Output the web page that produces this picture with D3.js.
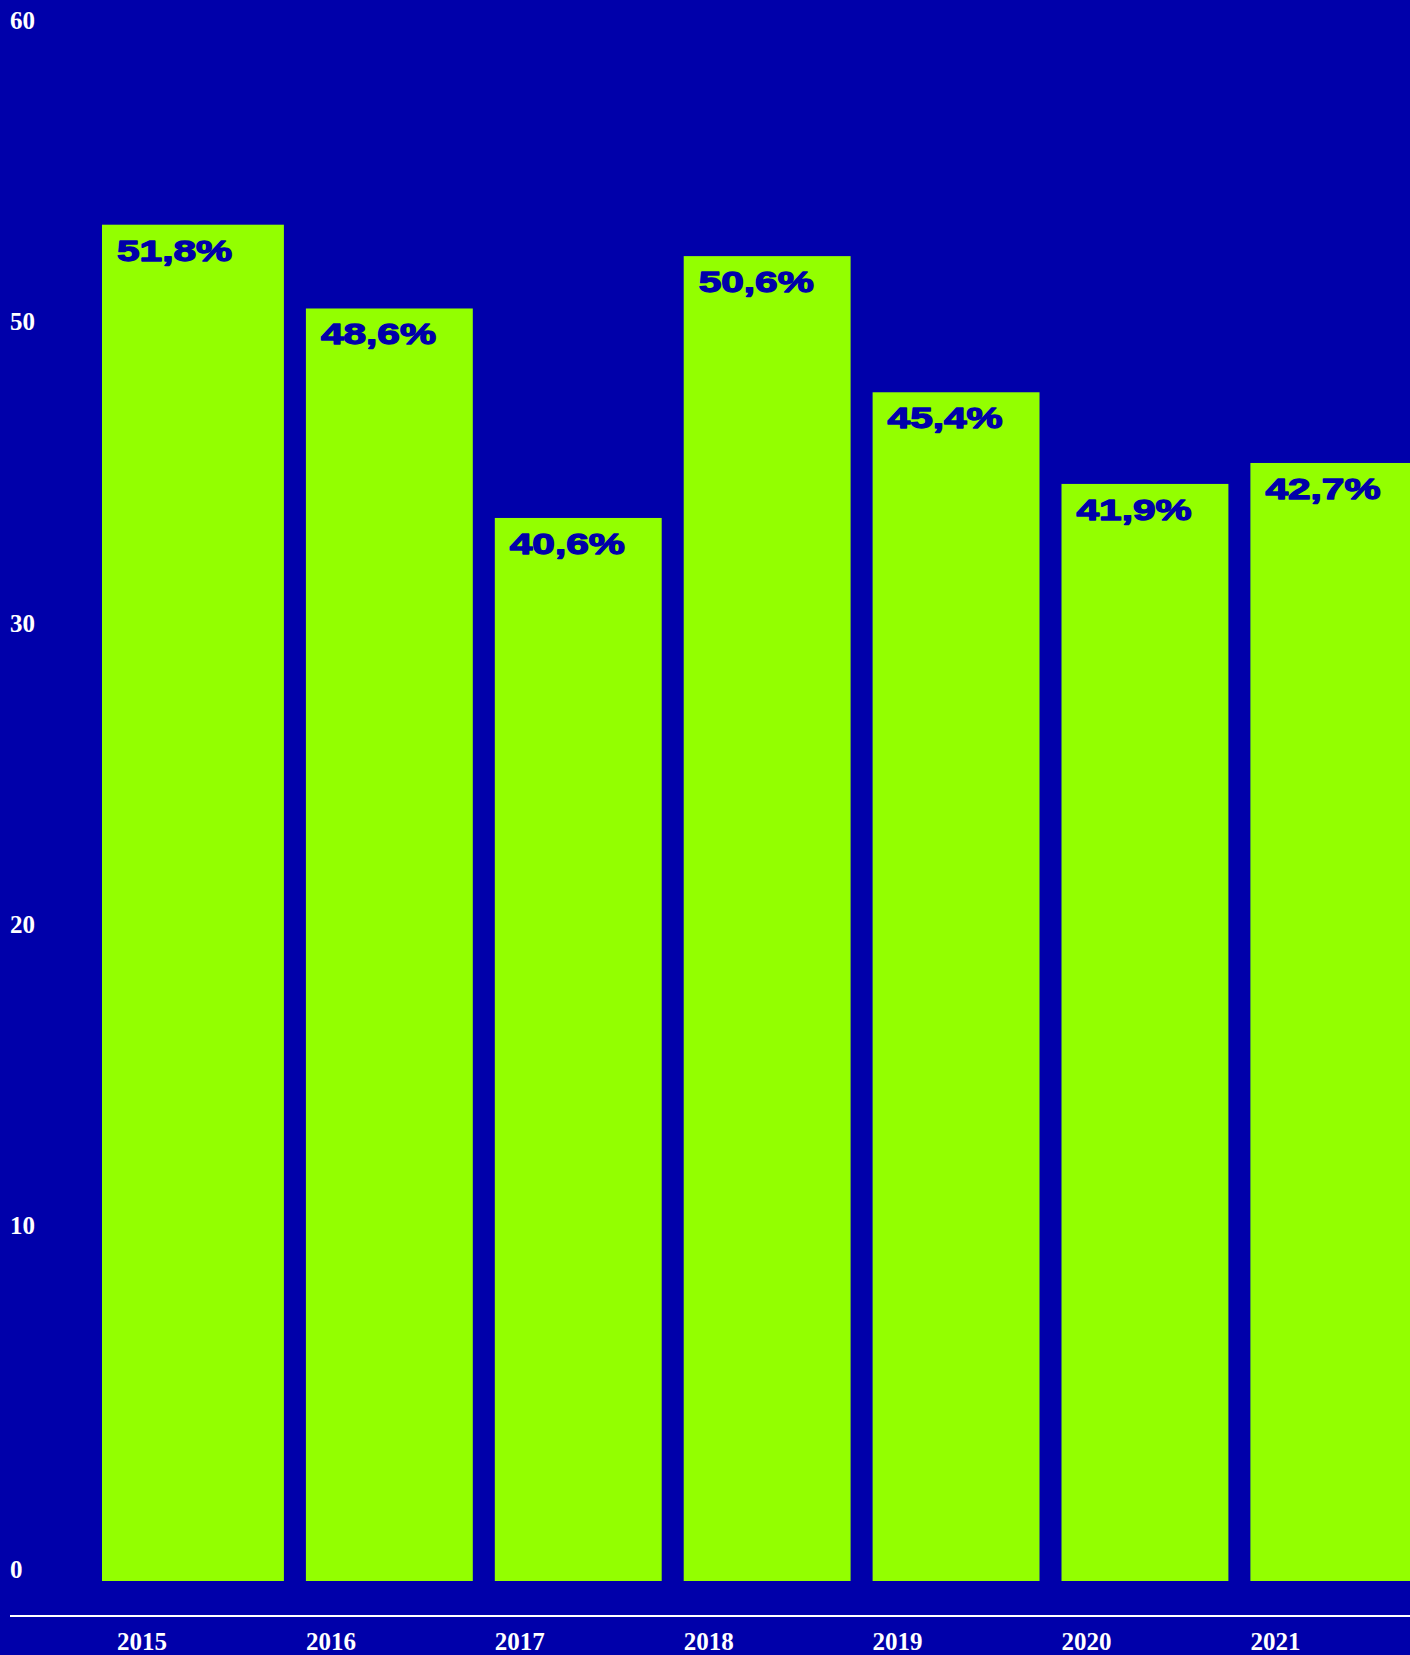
<!DOCTYPE html>
<html>
<head>
<meta charset="utf-8">
<script src="https://cdn.jsdelivr.net/npm/d3@7"></script>
<style>
  html, body { margin: 0; padding: 0; background: #0000AA; overflow: hidden; }
  svg { display: block; }
  .tick-label { font-family: "Liberation Serif", "DejaVu Serif", serif; font-weight: bold; font-size: 25px; fill: #ffffff; font-variant-numeric: oldstyle-nums; }
  .val-label { font-family: "Liberation Sans", Arial, sans-serif; font-weight: bold; font-size: 29px; fill: #0000AA; stroke: #0000AA; stroke-width: 1.3px; stroke-linejoin: round; }
</style>
</head>
<body>
<div id="chart"></div>
<script>
// ---- data ----
const years = ["2015", "2016", "2017", "2018", "2019", "2020", "2021"];
const values = [51.8, 48.6, 40.6, 50.6, 45.4, 41.9, 42.7];
const valueLabels = ["51,8%", "48,6%", "40,6%", "50,6%", "45,4%", "41,9%", "42,7%"];
const yTickLabels = ["60", "50", "30", "20", "10", "0"];

// ---- layout ----
const W = 1410, H = 1655;
const BG = "#0000AA", BAR = "#93FF00";
const plotLeft = 102;      // first bar starts flush here
const bandStart = 117, bandEnd = 1417.3;
const baseY = 1581, topY = 10;

const svg = d3.select("#chart").append("svg")
  .attr("width", W).attr("height", H);

svg.append("rect").attr("width", W).attr("height", H).attr("fill", BG);

const x = d3.scaleBand().domain(years).range([bandStart, bandEnd])
  .paddingInner(0.1165).paddingOuter(0);
const y = d3.scaleLinear().domain([0, 60]).range([baseY, topY]);

const data = years.map((yr, i) => ({ year: yr, value: values[i], label: valueLabels[i], i }));
const barLeft = d => d.i === 0 ? plotLeft : x(d.year);
const barRight = d => x(d.year) + x.bandwidth();

// bars
svg.append("g").selectAll("rect").data(data).join("rect")
  .attr("x", d => barLeft(d))
  .attr("y", d => y(d.value))
  .attr("width", d => barRight(d) - barLeft(d))
  .attr("height", d => y(0) - y(d.value))
  .attr("fill", BAR);

// value labels (wide, stretched)
svg.append("g").selectAll("text").data(data).join("text")
  .attr("class", "val-label")
  .attr("transform", d => `translate(${barLeft(d) + 15},${y(d.value) + 36}) scale(1.4,1)`)
  .text(d => d.label);

// y tick labels
const tickPos = d3.scalePoint().domain(yTickLabels.slice(0, -1)).range([29, 1234]);
svg.append("g").selectAll("text").data(yTickLabels).join("text")
  .attr("class", "tick-label")
  .attr("x", 10)
  .attr("y", d => d === "0" ? y(0) - 3 : tickPos(d))
  .text(d => d);

// baseline rule
svg.append("line")
  .attr("x1", 10).attr("x2", W)
  .attr("y1", 1616).attr("y2", 1616)
  .attr("stroke", "#ffffff").attr("stroke-width", 2);

// x labels
svg.append("g").selectAll("text").data(years).join("text")
  .attr("class", "tick-label")
  .attr("x", d => x(d))
  .attr("y", 1650)
  .text(d => d);
</script>
</body>
</html>
